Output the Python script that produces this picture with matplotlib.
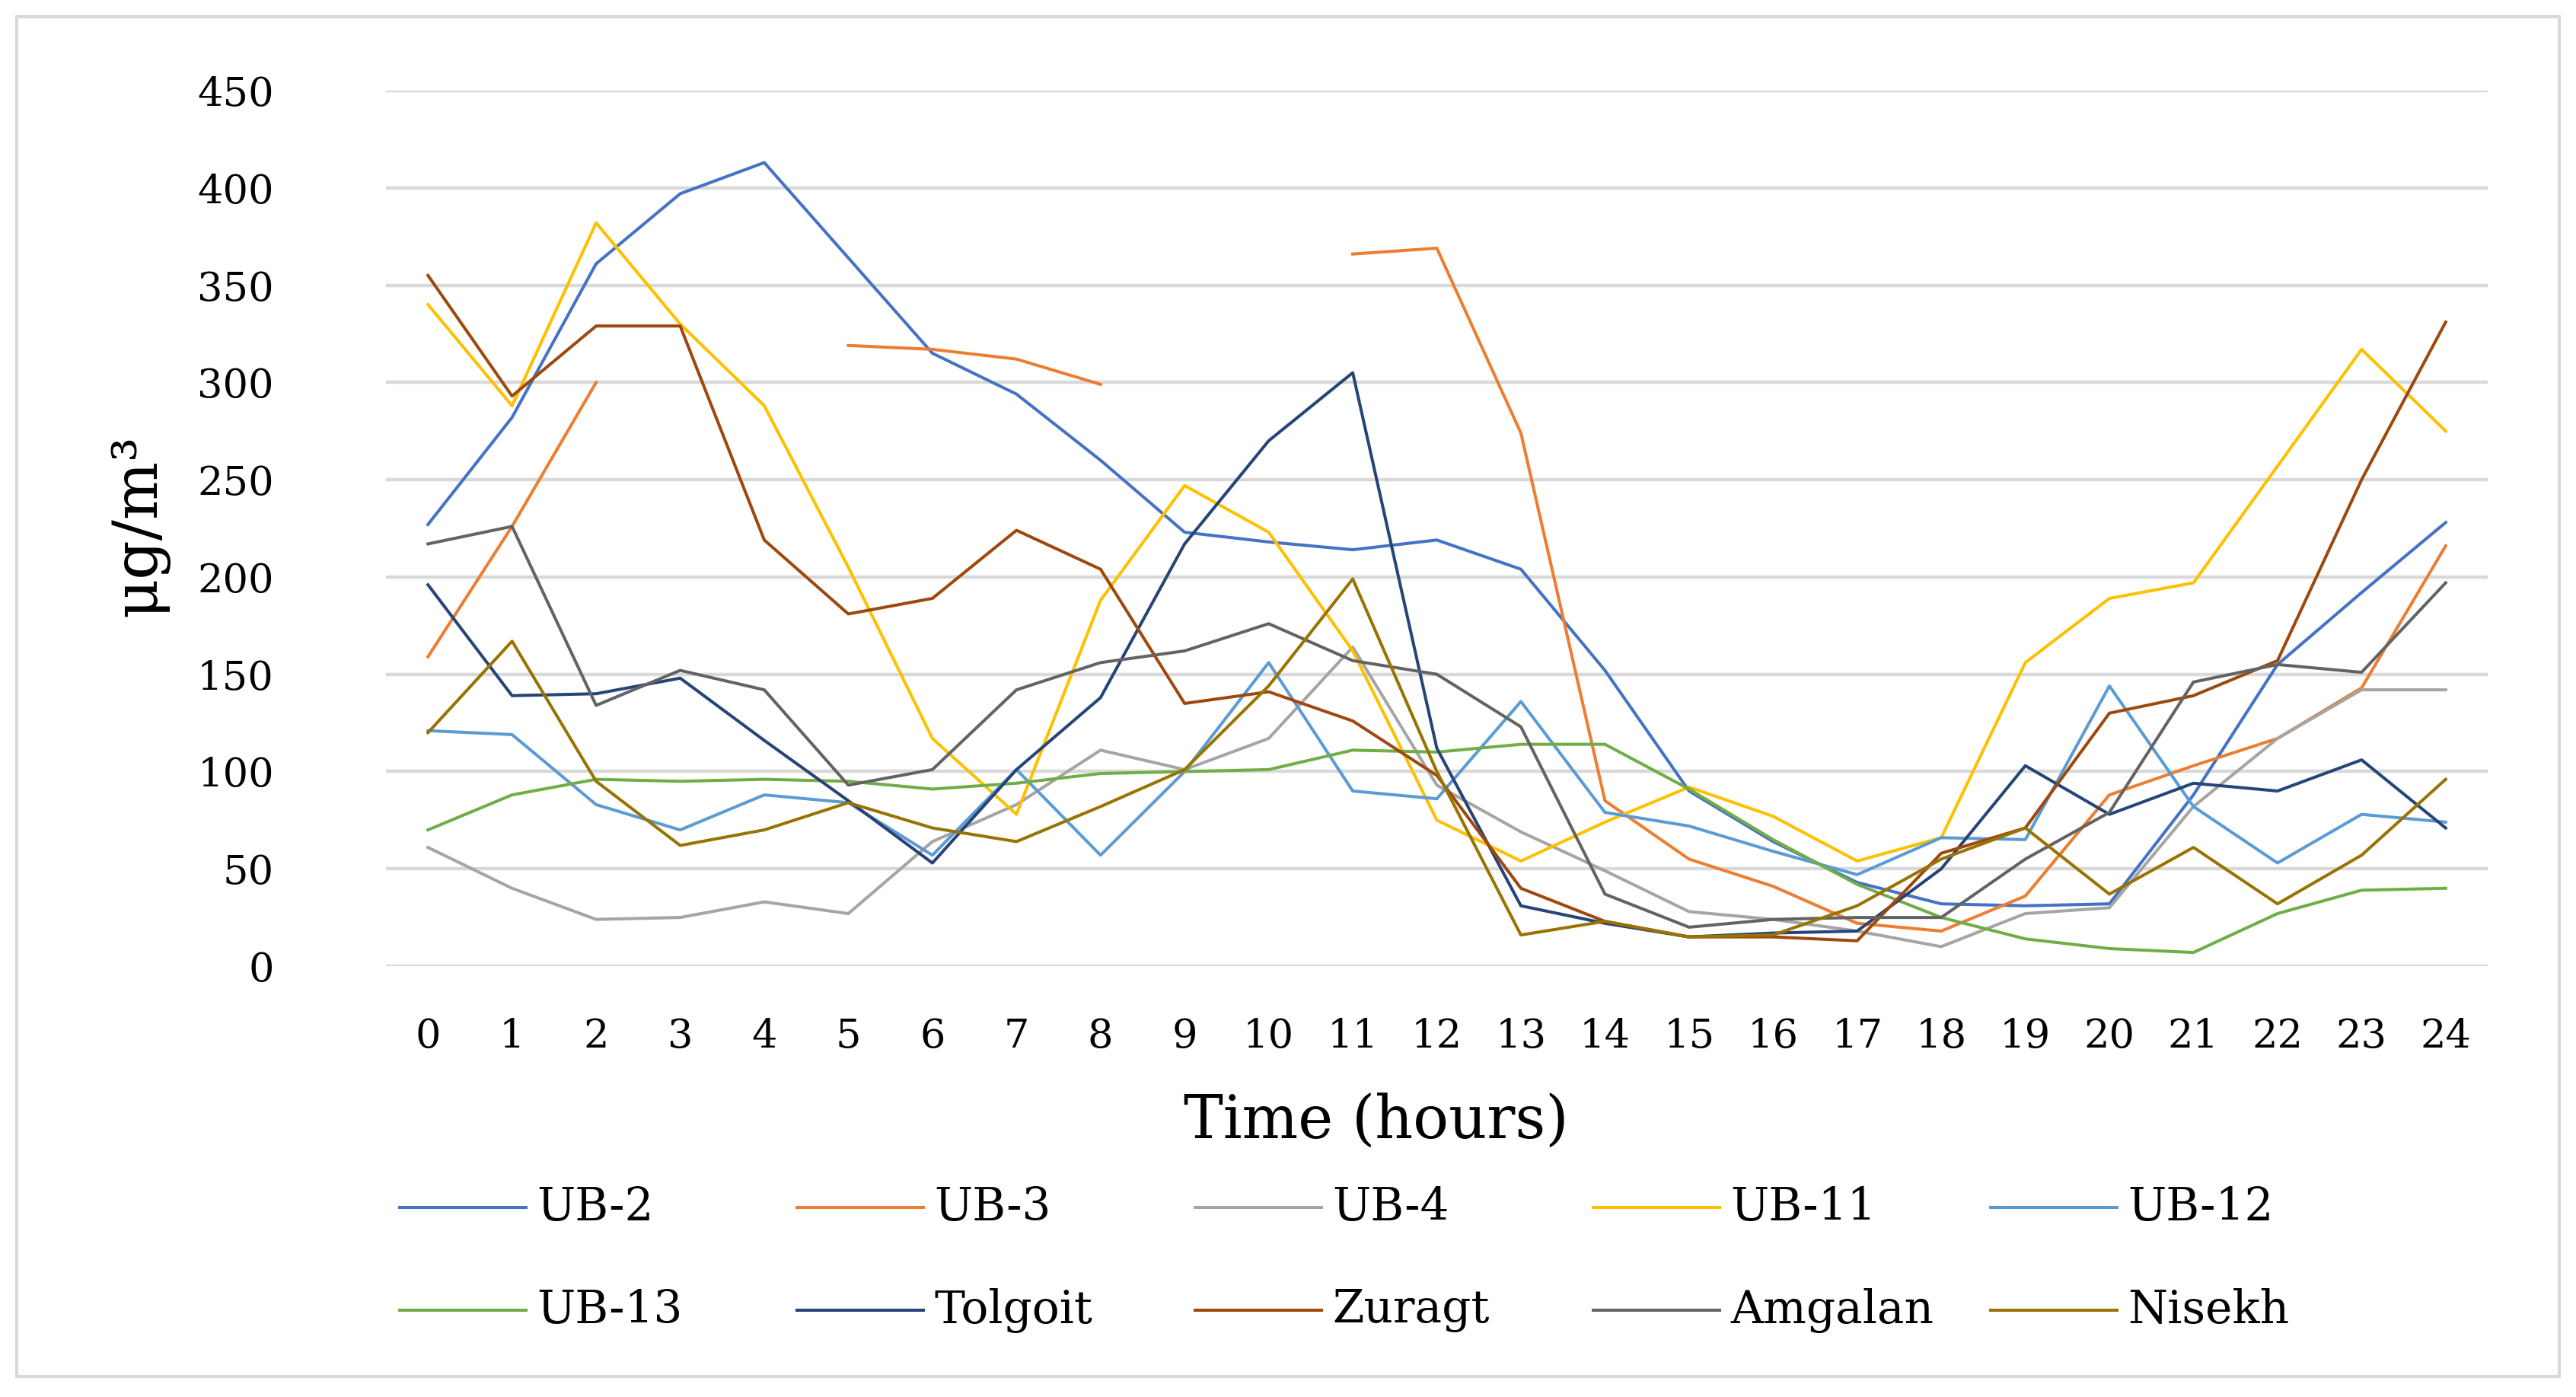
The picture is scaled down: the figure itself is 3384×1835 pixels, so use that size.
import matplotlib
matplotlib.use("Agg")
import matplotlib.pyplot as plt
from matplotlib.lines import Line2D
from matplotlib.patches import Rectangle
import numpy as np

hours = list(range(25))

ub2 = [227, 282, 361, 397, 413, 364, 315, 294, 260, 223, 218, 214, 219, 204, 152, 90, 64, 43, 32, 31, 32, 88, 155, 192, 228]
ub3 = [159, 226, 300, None, None, 319, 317, 312, 299, None, None, 366, 369, 274, 85, 55, 41, 22, 18, 36, 88, 103, 117, 143, 216]
ub4 = [61, 40, 24, 25, 33, 27, 64, 83, 111, 101, 117, 164, 93, 69, 49, 28, 24, 18, 10, 27, 30, 82, 117, 142, 142]
ub11 = [340, 288, 382, 330, 288, 205, 117, 78, 188, 247, 223, 162, 75, 54, 74, 92, 77, 54, 66, 156, 189, 197, 257, 317, 275]
ub12 = [121, 119, 83, 70, 88, 84, 57, 101, 57, 100, 156, 90, 86, 136, 79, 72, 59, 47, 66, 65, 144, 82, 53, 78, 74]
ub13 = [70, 88, 96, 95, 96, 95, 91, 94, 99, 100, 101, 111, 110, 114, 114, 91, 65, 42, 25, 14, 9, 7, 27, 39, 40]
tolgoit = [196, 139, 140, 148, 116, 85, 53, 101, 138, 217, 270, 305, 112, 31, 22, 15, 17, 18, 50, 103, 78, 94, 90, 106, 71]
zuragt = [355, 293, 329, 329, 219, 181, 189, 224, 204, 135, 141, 126, 98, 40, 23, 15, 15, 13, 58, 71, 130, 139, 157, 250, 331]
amgalan = [217, 226, 134, 152, 142, 93, 101, 142, 156, 162, 176, 157, 150, 123, 37, 20, 24, 25, 25, 55, 79, 146, 155, 151, 197]
nisekh = [120, 167, 95, 62, 70, 84, 71, 64, 82, 101, 144, 199, 100, 16, 23, 15, 16, 31, 55, 71, 37, 61, 32, 57, 96]

names = ["UB-2", "UB-3", "UB-4", "UB-11", "UB-12", "UB-13", "Tolgoit", "Zuragt", "Amgalan", "Nisekh"]
series = [ub2, ub3, ub4, ub11, ub12, ub13, tolgoit, zuragt, amgalan, nisekh]
colors = ["#4472C4", "#ED7D31", "#A5A5A5", "#FFC000", "#5B9BD5",
          "#70AD47", "#264478", "#9E480E", "#636363", "#997300"]

yticks = [0, 50, 100, 150, 200, 250, 300, 350, 400, 450]

plt.rcParams['font.family'] = ['DejaVu Serif']

W, H = 3384, 1835
fig = plt.figure(figsize=(W / 100, H / 100), dpi=100)
fig.patches.append(Rectangle((22 / W, 27 / H), (3362 - 22) / W, (1808 - 22) / H,
                             transform=fig.transFigure, fill=False,
                             edgecolor="#D9D9D9", linewidth=3))

ax = fig.add_axes([507 / W, 1 - 1269 / H, (3268 - 507) / W, (1269 - 119) / H])
for vals, c in zip(series, colors):
    y = np.array([np.nan if v is None else v for v in vals], dtype=float)
    ax.plot(hours, y, color=c, linewidth=2.9)

ax.set_xlim(-0.5, 24.5)
ax.set_ylim(0, 450)
ax.set_yticks(yticks)
ax.set_xticks(hours)
ax.grid(axis='y', color="#D9D9D9", linewidth=3.2)
ax.set_axisbelow(True)
for s in ax.spines.values():
    s.set_visible(False)
ax.tick_params(axis='both', length=0, labelsize=38)
ax.tick_params(axis='y', pad=106)
ax.tick_params(axis='x', pad=48)

fig.text(183 / W, 1 - 690 / H, "μg/m³", rotation=90, ha='center', va='center', fontsize=58)
fig.text(1808 / W, 1 - 1474 / H, "Time (hours)", ha='center', va='center', fontsize=56)

# legend, 2 rows x 5 columns
col_x = [525, 1047, 1570, 2093, 2615]
row_y = [1586, 1721]
for i, (nm, c) in enumerate(zip(names, colors)):
    r, k = divmod(i, 5)
    x0 = col_x[k]
    yy = 1 - row_y[r] / H
    fig.add_artist(Line2D([x0 / W, (x0 + 166) / W], [yy, yy], transform=fig.transFigure,
                          color=c, linewidth=2.9))
    fig.text((x0 + 180) / W, yy, nm, ha='left', va='center', fontsize=43)

fig.savefig("out.png", dpi=100)
